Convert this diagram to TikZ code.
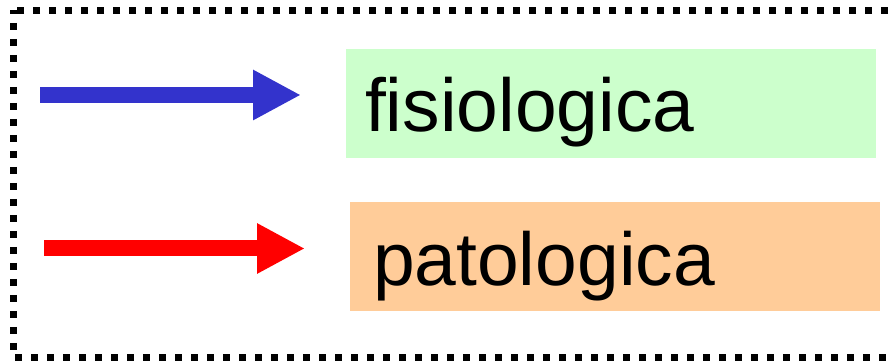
\documentclass[tikz,border=0pt]{standalone}
\usepackage{fontspec}
\setmainfont{Liberation Sans}
\usepackage{xcolor}
\definecolor{fisioBlue}{RGB}{51, 51, 204}
\definecolor{patoRed}{RGB}{255, 0, 0}
\definecolor{fisioGreen}{RGB}{204, 255, 204}
\definecolor{patoOrange}{RGB}{255, 204, 153}
\usepackage{tikz}
\usetikzlibrary{arrows.meta}

\begin{document}
\begin{tikzpicture}[x=1pt, y=-1pt,
  lbl/.style={rectangle, inner ysep=0pt, inner xsep=19pt, text width=492pt,
              text height=83pt, text depth=26pt, align=left,
              font=\fontsize{75}{80}\selectfont},
  fat/.style={-{Triangle[length=48pt, width=47pt]}, line width=16pt},
  frame/.style={line width=7pt, dash pattern=on 7pt off 9pt, dash phase=3.5pt},
]
  \path[use as bounding box] (0,0) rectangle (895,363);
  \draw[frame] (13.5,10.5) rectangle (910,357.5);

  \node[lbl, fill=fisioGreen] (fis) at (611,103.5) {fisiologica};
  \node[lbl, fill=patoOrange, inner xsep=23pt, text width=484pt] (pat) at (615,257) {patologica};

  \coordinate (fisstart) at (40,95);
  \coordinate (fisend) at (301,95);
  \coordinate (patstart) at (44,248.5);
  \coordinate (patend) at (305,248.5);

  \draw[fat, fisioBlue] (fisstart) -- (fisend);
  \draw[fat, patoRed] (patstart) -- (patend);
\end{tikzpicture}
\end{document}
